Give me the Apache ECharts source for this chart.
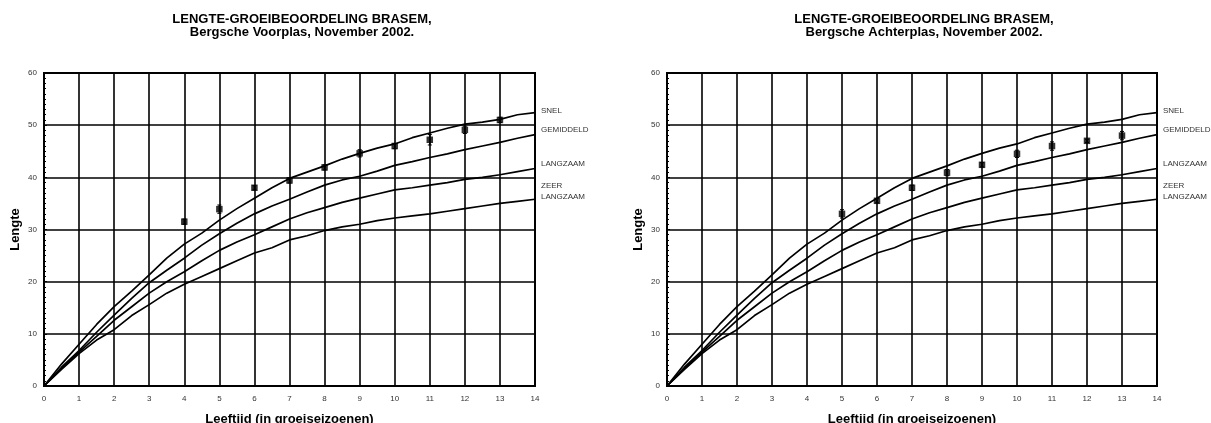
<!DOCTYPE html>
<html><head><meta charset="utf-8">
<script src="https://cdn.jsdelivr.net/npm/echarts@6/dist/echarts.min.js"></script>
<style>html,body{margin:0;padding:0;background:#fff}#c{width:1211px;height:423px}</style>
</head><body><div id="c"></div>
<script>
// ---- data ----
const ages = [0,0.5,1,1.5,2,2.5,3,3.5,4,4.5,5,5.5,6,6.5,7,7.5,8,8.5,9,9.5,10,10.5,11,11.5,12,12.5,13,13.5,14];
const snel       = [0,4.2,8.0,11.8,15.2,18.2,21.3,24.5,27.2,29.3,31.8,34.0,36.0,38.0,39.8,41.0,42.2,43.5,44.6,45.6,46.4,47.6,48.5,49.4,50.2,50.6,51.1,52.0,52.4];
const gemiddeld  = [0,3.6,6.8,10.3,13.6,16.8,19.8,22.2,24.5,27.0,29.2,31.2,33.0,34.5,35.8,37.2,38.5,39.5,40.2,41.2,42.3,43.0,43.8,44.5,45.3,46.0,46.7,47.5,48.2];
const langzaam   = [0,3.4,6.5,9.5,12.6,15.2,17.8,20.0,21.9,24.0,26.0,27.6,29.0,30.5,32.0,33.2,34.2,35.2,36.0,36.8,37.6,38.0,38.5,39.0,39.6,40.0,40.5,41.1,41.7];
const zeerLangzaam = [0,3.2,6.2,8.8,10.8,13.5,15.6,17.8,19.5,21.0,22.5,24.0,25.5,26.5,28.0,28.8,29.8,30.5,31.0,31.7,32.2,32.6,33.0,33.5,34.0,34.5,35.0,35.4,35.8];
const curveNames = ['SNEL','GEMIDDELD','LANGZAAM','ZEER\nLANGZAAM'];

const voorAges    = [4,5,6,7,8,9,10,11,12,13];
const voorLengths = [31.5,33.9,38.0,39.4,41.9,44.6,46.0,47.2,49.1,51.0];
const voorErr     = [0.5,0.8,0.4,0.5,0.5,0.7,0.5,1.0,0.7,0.5];

const achterAges    = [5,6,7,8,9,10,11,12,13];
const achterLengths = [33.0,35.5,38.0,40.9,42.4,44.5,46.0,47.0,48.0];
const achterErr     = [0.8,0.4,0.5,0.6,0.4,0.7,0.8,0.3,0.8];

const titleLine1 = 'LENGTE-GROEIBEOORDELING BRASEM,';
const titles2 = ['Bergsche Voorplas, November 2002.','Bergsche Achterplas, November 2002.'];
const xName = 'Leeftijd (in groeiseizoenen)';
const yName = 'Lengte';

// ---- chart ----
const FONT = '"Liberation Sans", Arial, sans-serif';
const curves = [snel, gemiddeld, langzaam, zeerLangzaam];
const labelOffsets = [-2, -4.5, -5, -8];
const grids = [
  {left:44, right:676, top:73, bottom:37},
  {left:667, right:54, top:73, bottom:37}
];
const titleCenters = [302, 924];

const option = {
  animation:false,
  backgroundColor:'#fff',
  title: [0,1].map(i => ({
    text: titleLine1 + '\n' + titles2[i],
    left: titleCenters[i], top: 13, textAlign:'center', padding:0,
    textStyle:{fontFamily:FONT, fontSize:13, fontWeight:'bold', color:'#000', lineHeight:13}
  })),
  grid: grids.map(g => Object.assign({show:true, borderColor:'#000', borderWidth:2, backgroundColor:'transparent', outerBoundsMode:'none', containLabel:false}, g)),
  xAxis: [0,1].map(i => ({
    gridIndex:i, type:'value', min:0, max:14, interval:1,
    name:xName, nameLocation:'middle', nameGap:27,
    nameTextStyle:{fontFamily:FONT, fontSize:13, fontWeight:'bold', color:'#000'},
    axisLine:{show:true, lineStyle:{color:'#000', width:2}},
    axisTick:{show:false},
    axisLabel:{fontFamily:FONT, fontSize:8, color:'#333', margin:9},
    splitLine:{show:true, lineStyle:{color:'#000', width:1.6}}
  })),
  yAxis: [0,1].map(i => ({
    gridIndex:i, type:'value', min:0, max:60, interval:10,
    name:yName, nameLocation:'middle', nameGap:22,
    nameTextStyle:{fontFamily:FONT, fontSize:13, fontWeight:'bold', color:'#000'},
    axisLine:{show:true, lineStyle:{color:'#000', width:2}},
    axisTick:{show:true, inside:true, length:3, lineStyle:{color:'#000'}},
    minorTick:{show:true, splitNumber:10, length:2, lineStyle:{color:'#000', width:1}},
    axisLabel:{fontFamily:FONT, fontSize:8, color:'#333', margin:7},
    splitLine:{show:true, lineStyle:{color:'#000', width:1.6}}
  })),
  series: []
};

[0,1].forEach(gi => {
  curves.forEach((c, ci) => {
    option.series.push({
      type:'line', name:curveNames[ci], xAxisIndex:gi, yAxisIndex:gi,
      data: ages.map((a, k) => [a, c[k]]),
      showSymbol:false, symbol:'none',
      lineStyle:{color:'#000', width:1.7},
      endLabel:{show:true, formatter:curveNames[ci], distance:6, offset:[0, labelOffsets[ci]],
        fontFamily:FONT, fontSize:8, color:'#333', lineHeight:11, align:'left'},
      z:3
    });
  });
  const ag = gi === 0 ? voorAges : achterAges;
  const ln = gi === 0 ? voorLengths : achterLengths;
  const er = gi === 0 ? voorErr : achterErr;
  option.series.push({
    type:'custom', xAxisIndex:gi, yAxisIndex:gi,
    data: ag.map((a, k) => [a, ln[k] - er[k], ln[k] + er[k]]),
    renderItem: (params, api) => {
      const lo = api.coord([api.value(0), api.value(1)]);
      const hi = api.coord([api.value(0), api.value(2)]);
      return {type:'group', children:[
        {type:'line', shape:{x1:lo[0], y1:lo[1], x2:hi[0], y2:hi[1]}, style:{stroke:'#000', lineWidth:1.5}},
        {type:'line', shape:{x1:hi[0]-2, y1:hi[1], x2:hi[0]+2, y2:hi[1]}, style:{stroke:'#000', lineWidth:1}},
        {type:'line', shape:{x1:lo[0]-2, y1:lo[1], x2:lo[0]+2, y2:lo[1]}, style:{stroke:'#000', lineWidth:1}}
      ]};
    },
    z:4
  });
  option.series.push({
    type:'scatter', xAxisIndex:gi, yAxisIndex:gi,
    data: ag.map((a, k) => [a, ln[k]]),
    symbol:'rect', symbolSize:6.5,
    itemStyle:{color:'#000'}, z:5
  });
});

const chart = echarts.init(document.getElementById('c'), null, {renderer:'canvas'});
chart.setOption(option);
</script>
</body></html>
